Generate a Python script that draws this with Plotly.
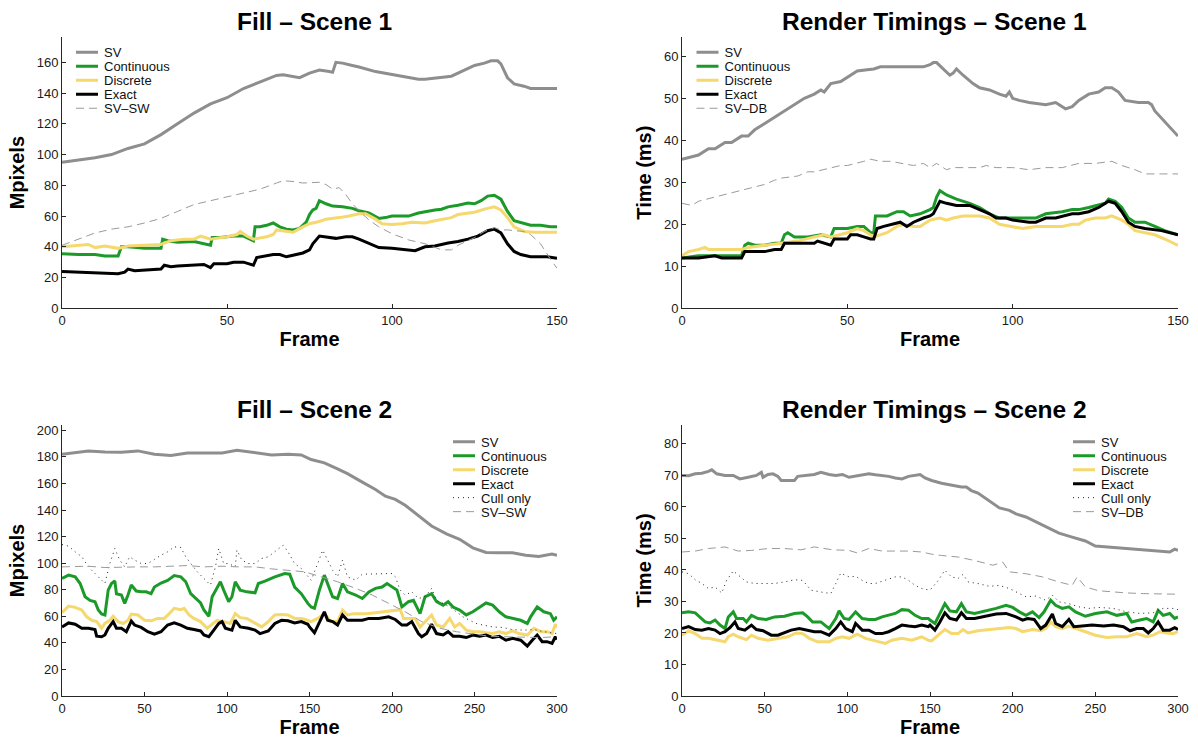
import plotly.graph_objects as go

# ---------------- data ----------------
# Fill - Scene 1
f1_sv_x = [0,5,10,15,20,25,30,35,40,45,50,55,60,65,67,70,72,75,78,81,82,83,85,88,90,95,100,105,108,110,115,118,120,125,128,130,132,133,135,137,140,142,150]
f1_sv_y = [95,96.5,98,100,104,107,113,120,127,133,137,143,147,151.5,152,150.5,150,153,155,154,153.5,160,159.5,158,157,154,152,150,149,149,150,151,153,158,159.5,161,161,159,150,146,144.5,143,143]
f1_cont_x = [0,5,10,13,17,18,20,22,25,30,30.5,32,35,40,43,45,45.5,48,52,55,58,58.5,60,62,64,66,68,70,72,74,75,76,77,78,80,82,85,88,90,93,96,98,100,105,108,110,113,115,117,120,123,125,127,129,131,133,135,137,140,142,145,148,150]
f1_cont_y = [35.5,35,35,34,34,40,40,39.5,39,39,45,44,43,43.5,42,41,46,46,47,47,44,53,53,54,55.5,53,51.5,51,52,56,61,64,65,70,68,66.5,66,65,63.5,62,58.5,59,60,60,62,63,64,64.5,66,67,68.5,68,70,73,73.5,71,63,57,55,54,54,53,53]
f1_disc_x = [0,5,8,10,13,17,20,25,30,33,37,40,42,45,48,50,53,54,56,58,62,64,65,68,70,73,75,78,80,84,87,90,92,95,97,100,103,106,110,113,118,120,125,128,131,133,135,137,140,143,150]
f1_disc_y = [40,41,41.5,39.5,40.5,39,40.5,41,41.5,44,45,45,47,45,46,46.5,48,50,47,45,46.5,48,51,50,49.5,53,55,56.5,58,59,60,61.5,61.5,58,55,54.5,55,56,55.5,57,59,61,62.5,64.5,66,64,59,53,50,49.5,49.5]
f1_exact_x = [0,5,10,13,17,19,20,22,28,30,31,33,35,40,43,45,46,50,52,55,57,58,59,61,64,66,68,70,73,75,76,78,80,83,86,88,90,93,96,100,105,107,110,113,117,120,123,126,129,131,133,135,137,139,142,147,150]
f1_exact_y = [24,23.5,23,22.5,22.5,23.5,25.5,24.5,25,25.5,28,27,27.5,28,28.5,26.5,29,29,30,30,28.5,28,33,34,35,35,33.5,34.5,36,38,42,47,46.5,45.5,46.5,46.5,45,42.5,39.5,39,38,37.5,40,40.5,42.5,43.5,45,47,50.5,51.5,49,42,37,35,33.5,33.5,32.5]
f1_svsw_x = [0,5,10,15,20,25,30,35,40,45,50,55,60,65,67,70,73,78,80,82,84,86,88,90,93,96,100,105,110,115,118,120,125,128,131,133,135,137,140,142,145,148,150]
f1_svsw_y = [41,45,49,51.5,53,55.5,58.5,63,67.5,70,72.5,75,77.5,81.5,83,82.5,81.5,82,80.5,77.5,78.5,74,68,63.5,57.5,53,48.5,44.5,42,38,38,41,46,50,52.5,51,51,50.5,50,48,42,32,26]

# Render Timings - Scene 1
t1_sv_x = [0,3,5,8,10,13,15,18,20,22,25,28,30,33,35,37,40,42,43,45,48,50,53,56,58,60,65,70,73,75,76,77,79,81,82,83,85,88,90,93,96,98,99,100,102,105,110,113,116,118,120,123,126,128,130,132,134,138,141,142,143,146,150]
t1_sv_y = [35.5,36,36.5,38,38,39.5,39.5,41,41,42.5,44,45.5,46.5,48,49,50,51,52,51.5,53.5,54,55,56.5,56.8,57,57.5,57.5,57.5,57.5,58,58.5,58.5,57,55.5,56,57,55.5,53.5,52.5,52,51,50.5,51.5,50,49.5,49,48.5,49,47.5,48,49.5,51,51.5,52.5,52.5,51.5,49.5,49,49,48.5,47,44.5,41]
t1_cont_x = [0,5,10,15,18,19,20,22,25,28,30,31,32,34,38,42,45,46,50,53,55,57,58,58.5,62,65,67,69,72,75,76,77,78,80,83,87,90,93,96,100,105,107,110,115,118,120,123,126,128,129,131,133,135,137,140,143,146,150]
t1_cont_y = [12,12.5,12.5,12.5,12.5,15,15.5,15,15,15.5,15.5,17.5,18,17,17,17.5,17,19,19,19.5,19.5,18,18,22,22,23,23,22,22.5,23.5,24,26.5,28,27,26,25,24,22.5,21.5,21.5,21.5,21.5,22.5,23,23.5,23.5,24,24.5,25,26,25.5,24,21.5,20.5,20.5,19.5,18.5,17.5]
t1_disc_x = [0,2,5,7,8,10,15,18,20,25,30,35,40,43,45,48,50,53,55,58,60,62,65,67,70,72,74,75,78,80,82,85,90,93,96,100,103,107,110,115,118,120,122,125,128,130,133,135,137,140,143,146,150]
t1_disc_y = [12.5,13.5,14,14.5,14,14,14,14,14.5,15,15.5,16,17,17.5,17,17.5,18,19,18.5,17,17.5,18,19.5,20,19.5,19.5,20.5,21,21.5,21,21.5,22,22,21.5,20,19.5,19,19.5,19.5,19.5,20,20,21,21.5,21.5,22,21,20,18.5,18,17.5,16.5,15]
t1_exact_x = [0,5,10,12,15,18,19,20,23,25,28,30,31,33,37,40,41,43,45,46,48,50,51,53,55,57,58,59,61,64,66,68,70,73,75,76,77,78,80,83,85,87,90,93,95,98,100,105,107,110,113,116,118,120,123,126,129,131,133,135,137,140,145,150]
t1_exact_y = [12,12,12.5,12,12,12,13.5,13.5,13.5,13.5,14,14,15.5,15.5,15.5,15.5,16,15.5,15,16.5,16.5,16.5,17.5,17.5,17,16.5,16.5,19,19.5,20,20.5,19.5,20.5,21.5,22,22.5,24,25.5,25,24.5,24.5,24.5,23.5,22.5,21.5,21.5,21,20.5,20.5,21.5,21.5,22,22.5,22.5,23,24,25.5,25,23,20.5,19.5,19,18.5,17.5]
t1_svdb_x = [0,3,5,10,15,20,25,28,30,35,38,40,45,48,50,53,55,57,60,63,66,70,73,75,77,80,82,85,90,92,95,100,105,110,115,120,125,130,133,137,140,145,150]
t1_svdb_y = [25,24.5,25.5,26.5,27.5,28.5,29.5,30.5,31,31.5,32.5,32.5,33.5,34,34,34.5,35,35.5,35,35,34.5,34,34.5,33.5,34.5,33,33.5,33.5,33.5,34,33.5,33.5,33,33.5,33.5,34.5,34.5,35,34,33,32,32,32]

# Fill - Scene 2
f2_sv_x = [0,8,16,26,36,46,56,66,76,86,97,106,117,127,137,145,151,159,167,173,182,190,196,202,208,216,224,233,241,249,257,265,273,281,289,297,300]
f2_sv_y = [182,183,184.5,183.7,183.5,184.5,182,181,183,183,183,185,183,181.5,182,181.5,178,175.5,171,167.4,161,155.4,150.4,148,143.6,136,128,122,118,111.5,108,107.8,107.8,106,105,106.8,106]
f2_cont_x = [0,4,8,11,14,17,20,22,24,26,28,30,32,33,36,38,40,42,45,48,51,54,56,60,64,68,72,75,78,81,84,86,89,91,94,96,98,101,103,105,108,112,117,119,123,129,135,138,141,145,149,151,153,156,159,161,164,167,170,173,178,182,186,190,194,197,200,203,206,210,213,217,220,224,227,231,234,237,241,245,249,253,257,261,265,269,273,278,282,284,288,292,296,298,300]
f2_cont_y = [88.5,91,89.7,84.7,74.7,72,71,64.7,61.7,61,79.7,84.7,86.7,77,76,69.7,76,83.5,79,78.4,78.4,77,82,85,87,90.7,89.7,86,77,73.4,70,64.7,60,74.7,81,86,79.7,71,74.7,86,79.7,78.4,77.7,84.7,86.5,89.7,92.2,91.7,82,77,69.7,67,66,79.7,91,84.7,74.7,73.4,84.7,78.4,76,73.4,78.4,81,82,84.7,82,79.7,67,71,72,62,74.7,77,71,68.4,71,67,64.7,61,63.4,67,70,68.4,63.4,59.6,58.4,57,54.6,59.6,67,63.4,62,57,59.6]
f2_disc_x = [0,4,8,12,15,18,21,24,26,29,31,34,37,40,42,46,50,54,58,62,65,68,72,74,77,80,84,88,91,94,98,102,105,108,112,117,121,125,129,133,137,141,145,149,151,155,159,163,167,170,173,177,184,190,196,202,205,207,210,214,217,220,224,227,231,235,238,241,245,249,253,257,261,265,269,273,277,282,286,290,294,297,299,300]
f2_disc_y = [62.7,67.7,66.7,64.7,59.6,57,56,51,54.6,57,60,56,54.6,57,61.7,61,57,56.6,58.4,58.4,62,66,65,66,61,58.4,56,51,54,57,56,54.6,62,59,58.4,55,52,56,61,61.4,61,58.4,58.4,57,56,58.4,62,56,56,64.7,61,62,62,62.7,63.4,64.2,65,58.4,58.4,58.4,52,56,61,53.4,52,58.4,52,54.6,49.6,48.4,48.4,47.6,47,48.4,47,49,47,45.9,51,48.4,48.4,47,54,51.6]
f2_exact_x = [0,4,8,12,16,20,21,24,26,28,31,33,36,39,42,44,48,52,56,60,64,68,72,76,80,84,86,89,92,95,97,99,103,105,108,113,117,120,125,129,133,137,141,145,149,150,153,156,159,161,164,167,170,173,178,182,186,192,198,202,206,209,212,216,218,221,224,227,231,234,237,241,245,249,253,257,261,265,269,273,278,282,285,288,291,294,297,299,300]
f2_exact_y = [52,55,54,51,51,50,45,44.6,45.9,51,56,51,51,48.4,56.4,53.4,51.6,48.4,46.6,48.4,53.4,55,53.4,51,50,49,45.9,44.6,49.6,54.6,56,51,49.6,57,52,51,49.6,47,49,54.6,57,56.6,55,56,54,52,47.6,56,63.4,57,56,53.4,61,57,57,57,58.4,58.4,59.6,57.6,53.4,53.4,56,47,44.6,47,54,47,45.9,48.4,45,45,44,45.9,45,45.9,44,45,42,43.4,42,37.6,42,45.9,40.9,40.9,39.6,44.6,42.6]
f2_cull_x = [0,4,8,12,16,20,23,26,29,32,35,38,41,44,48,52,56,60,64,68,72,75,78,82,86,90,93,95,98,101,105,106,109,113,117,121,125,129,134,137,141,145,149,151,155,158,161,164,167,170,173,178,182,188,194,200,202,205,208,212,216,220,224,227,231,235,239,243,247,251,255,261,267,273,280,286,292,298,300]
f2_cull_y = [114,112.8,108.5,104.8,97.2,92.2,88.5,84.7,99.7,111,102.3,97.2,104.8,102.3,99.7,99.7,102.8,106,108.5,112.3,111.8,104.8,99.7,93.5,88.5,83.5,97.2,111,99.7,99.7,97.2,109.8,102.3,99.7,99.7,103.5,104.8,108.5,113.5,108.5,99.7,96,89.7,87.2,99.7,109.8,102.3,94.7,89.7,102.3,89.7,87.2,91.7,91.7,92.2,92.2,89.7,79.7,76,78.4,73.4,74.7,81,72,69.7,67,63.4,59.6,57,54.6,53.4,52,51.6,50,49.6,50,48.4,47,47]
f2_svsw_x = [0,16,26,36,46,56,66,76,86,97,107,117,127,137,147,157,167,178,188,198,208,218,229,239,249,259,269,280,290,300]
f2_svsw_y = [97.2,97.7,96.7,97.2,97.2,97.2,97.7,98.2,97.2,97.7,97.2,97.2,95.7,94.7,93.5,89.7,86,81,76,69.7,63.4,56,51,48.4,46.6,45,44.6,44,44,44.6]

# Render Timings - Scene 2
t2_sv_x = [0,4,8,12,16,18,21,26,31,35,40,45,48,49,52,55,58,60,64,68,70,76,80,84,89,93,97,101,105,109,113,117,121,125,129,133,137,141,144,147,151,157,163,169,172,175,179,186,192,198,202,208,214,220,228,236,244,250,257,265,273,281,289,295,298,300]
t2_sv_y = [70,69.9,70.5,70.7,71.3,71.8,70.5,70,70,68.9,69.4,70,71,69.4,70.3,70.5,69.7,68.4,68.4,68.4,69.7,70,70.3,71,70.3,70,70.3,69.4,69.7,70,70.5,70.2,70,69.7,69.2,68.9,69.7,70,70.3,69.2,68.4,67.5,66.8,66.3,66.3,65.2,64.4,62,59.7,58.9,57.8,56.8,55.2,53.8,51.7,50.4,49.2,47.6,47.3,47,46.8,46.4,46,45.7,46.6,46.2]
t2_cont_x = [0,4,8,11,14,17,20,23,26,28,31,33,37,39,42,46,51,56,62,68,73,76,79,84,89,93,95,98,101,105,109,113,117,121,125,129,133,137,141,145,149,150,153,156,159,162,166,169,172,177,184,190,196,200,204,208,212,216,219,223,226,230,234,238,244,250,257,263,269,272,277,281,285,288,291,295,298,300]
t2_cont_y = [26.4,26.7,26.4,25.1,23.5,23.2,24.1,22.5,21.4,25.1,26.7,24.6,24.6,23.5,25.6,24.6,24.3,25.1,25.3,26.2,26.4,25.1,23.5,23.5,21.4,24.6,27,24.6,24.3,26.7,24.6,24.3,24.3,25.1,25.6,26.2,27.4,27.2,25.6,24.6,24.6,24.1,23,26.2,29.3,27,26.7,29.3,26.7,26.2,27,27.8,28.8,28.1,26.7,25.6,26.7,24.9,26.7,30.4,28.8,27.8,28.3,26.7,25.3,26.2,26.7,25.6,26.2,23.5,24.1,24.6,23.5,27.2,25.6,26.2,24.6,25.1]
t2_disc_x = [0,4,8,12,16,21,26,28,31,34,39,42,46,52,58,64,69,73,77,82,89,93,97,101,106,111,117,123,127,133,139,145,149,151,156,159,163,167,170,173,179,186,192,198,202,206,212,217,220,223,226,230,234,238,244,250,257,263,269,275,281,285,289,293,297,300]
t2_disc_y = [19.3,20.7,19.8,18.3,18.3,17.7,17.2,18.8,19.6,18.8,17.9,19.3,18.3,17.7,18.3,18.8,20,19.8,18.3,17.2,17.2,18.3,18.8,18.3,19.6,18.3,17.5,16.7,17.7,18.3,17.7,18.8,17.7,17.5,19.8,21.1,19.8,19.8,21.1,20,20.7,21.1,21.4,21.7,21.4,20.4,21.1,20.7,21.4,23.5,22,21.4,22.2,21.4,20.4,19.3,18.6,18.8,18.8,19.8,18.8,19.3,20.4,20,19.8,20.4]
t2_exact_x = [0,4,8,12,16,20,23,26,29,32,34,38,42,45,49,54,58,62,66,71,75,80,84,89,93,96,99,103,105,109,113,117,121,125,129,133,137,141,145,149,150,153,156,159,162,166,169,172,177,184,190,196,202,206,209,213,217,220,224,226,230,234,237,242,248,255,261,267,271,275,279,282,285,288,291,295,298,300]
t2_exact_y = [21.4,22,21.1,20.9,21.4,20.9,19.8,20.4,21.7,23.5,21.4,20.9,22.5,21.1,20.7,19.3,19.3,20,20.9,21.4,20.9,20.4,20.4,19.3,21.4,23.5,21.4,20.4,23,20.9,20.9,19.8,19.8,20.4,21.4,22.5,22.2,22,22.5,22,22.5,20.9,23.5,26.4,24.6,24.1,26.4,24.6,24.6,25.3,26,26.2,25.1,24.1,24.6,24.3,21.4,22.5,26,23,22,24.3,22,22.2,22.5,22.2,22.5,22,20.7,21.4,21.4,20,21.4,23.5,20.9,20.9,21.7,21.1]
t2_cull_x = [0,4,8,12,16,20,24,27,31,35,39,44,50,56,62,68,73,78,84,90,93,96,101,105,109,113,117,123,129,133,137,141,145,150,155,159,163,167,170,173,179,186,192,198,204,208,214,220,224,228,234,240,246,252,261,269,277,285,291,297,300]
t2_cull_y = [39.4,38.8,36.9,35.7,34.1,34.6,32.7,36.7,39.7,37.8,36.2,35.7,35.7,35.7,36.2,36.9,36.7,33.6,33,32.5,35.7,39,37.8,38,36.7,35.7,35.7,36.7,37.8,37.8,36.7,35.1,34.1,33.6,36.7,39.9,37.8,37.3,38.6,36.2,35.7,34.8,35.1,34.1,32.5,31.5,31.7,30.4,32,29.9,29.3,28.3,27.8,28.1,27.8,26.7,26.2,26.4,27.8,27.8,27.4]
t2_svdb_x = [0,8,16,26,34,42,52,62,72,80,91,101,106,113,121,129,137,145,151,157,167,177,188,194,198,208,218,228,236,239,244,252,261,269,279,289,300]
t2_svdb_y = [45.7,46,46.8,47.3,46,46.2,46.8,46.8,46.4,47.3,46.4,46.2,45.4,46.8,46,46,46,45.7,45,44.6,44.1,43,41.5,42.5,39.4,38.8,37.8,36.2,35.1,37.8,34.6,33.4,33,32.7,32.5,32.3,32.3]

panel_titles = ["Fill – Scene 1", "Render Timings – Scene 1", "Fill – Scene 2", "Render Timings – Scene 2"]
y_titles = ["Mpixels", "Time (ms)", "Mpixels", "Time (ms)"]
x_title = "Frame"

# ---------------- styles ----------------
FONT = "Liberation Sans"
STYLE = {
    "SV":         dict(color="#8e8e8e", width=3),
    "Continuous": dict(color="#1b9a2a", width=3),
    "Discrete":   dict(color="#f5d86e", width=3),
    "Exact":      dict(color="#000000", width=3),
    "Cull only":  dict(color="#222222", width=1, dash="1px,4px"),
    "SV–SW":      dict(color="#9a9a9a", width=1, dash="8px,5px"),
    "SV–DB":      dict(color="#9a9a9a", width=1, dash="8px,5px"),
}

panels = [
    ("x", "y", "legend", [("SV", f1_sv_x, f1_sv_y), ("Continuous", f1_cont_x, f1_cont_y),
                          ("Discrete", f1_disc_x, f1_disc_y), ("Exact", f1_exact_x, f1_exact_y),
                          ("SV–SW", f1_svsw_x, f1_svsw_y)]),
    ("x2", "y2", "legend2", [("SV", t1_sv_x, t1_sv_y), ("Continuous", t1_cont_x, t1_cont_y),
                             ("Discrete", t1_disc_x, t1_disc_y), ("Exact", t1_exact_x, t1_exact_y),
                             ("SV–DB", t1_svdb_x, t1_svdb_y)]),
    ("x3", "y3", "legend3", [("SV", f2_sv_x, f2_sv_y), ("Continuous", f2_cont_x, f2_cont_y),
                             ("Discrete", f2_disc_x, f2_disc_y), ("Exact", f2_exact_x, f2_exact_y),
                             ("Cull only", f2_cull_x, f2_cull_y), ("SV–SW", f2_svsw_x, f2_svsw_y)]),
    ("x4", "y4", "legend4", [("SV", t2_sv_x, t2_sv_y), ("Continuous", t2_cont_x, t2_cont_y),
                             ("Discrete", t2_disc_x, t2_disc_y), ("Exact", t2_exact_x, t2_exact_y),
                             ("Cull only", t2_cull_x, t2_cull_y), ("SV–DB", t2_svdb_x, t2_svdb_y)]),
]

fig = go.Figure()
for xa, ya, lg, series in panels:
    for name, xs, ys in series:
        fig.add_trace(go.Scatter(x=xs, y=ys, mode="lines", name=name, xaxis=xa, yaxis=ya,
                                 legend=lg, line=STYLE[name], hoverinfo="skip"))

W, H = 1198, 739
def px_x(p): return p / W
def px_y(p): return 1 - p / H

XD = [[px_x(62), px_x(557)], [px_x(682), px_x(1178)]]
YD = [[px_y(308.3), px_y(37)], [px_y(696), px_y(425)]]

AX = dict(showline=True, linecolor="#262626", linewidth=1, ticks="inside", ticklen=4,
          tickcolor="#262626", showgrid=False, zeroline=False, automargin=False,
          tickfont=dict(family=FONT, size=13, color="#1a1a1a"))
TF = dict(family=FONT, size=20, color="black", weight="bold")

cfg = [  # (xdomain, ydomain, xmax, ymax, ydtick)
    (XD[0], YD[0], 150, 176.5, 20),
    (XD[1], YD[0], 150, 64.6, 10),
    (XD[0], YD[1], 300, 204, 20),
    (XD[1], YD[1], 300, 86, 10),
]
lay = {}
for i, (xd, yd, xm, ym, ydt) in enumerate(cfg):
    s = "" if i == 0 else str(i + 1)
    lay["xaxis" + s] = dict(AX, domain=xd, range=[0, xm], dtick=50, tick0=0, anchor="y" + s,
                            title=dict(text=x_title, font=TF, standoff=5))
    lay["yaxis" + s] = dict(AX, domain=yd, range=[0, ym], dtick=ydt, tick0=0, anchor="x" + s,
                            title=dict(text=y_titles[i], font=TF, standoff=6))

LG = dict(bgcolor="rgba(0,0,0,0)", borderwidth=0, xanchor="left", yanchor="top",
          font=dict(family=FONT, size=13, color="#111111"), tracegroupgap=0)
lay["legend"] = dict(LG, x=px_x(64), y=px_y(37.3))
lay["legend2"] = dict(LG, x=px_x(684.5), y=px_y(37.3))
lay["legend3"] = dict(LG, x=px_x(441), y=px_y(426.7))
lay["legend4"] = dict(LG, x=px_x(1061), y=px_y(426.7))

annotations = []
for i, t in enumerate(panel_titles):
    s = "" if i == 0 else str(i + 1)
    ycen = 21 if i < 2 else 409
    annotations.append(dict(text=t, xref="x" + s + " domain", x=0.5, xshift=5, yref="paper",
                            y=px_y(ycen), xanchor="center", yanchor="middle", showarrow=False,
                            font=dict(family=FONT, size=24.5, color="black", weight="bold")))

fig.update_layout(width=W, height=H, margin=dict(l=0, r=0, t=0, b=0, pad=0, autoexpand=False),
                  paper_bgcolor="white", plot_bgcolor="white", showlegend=True,
                  annotations=annotations, font=dict(family=FONT), **lay)

# page without body margin; tighten the legend rows to the reference's compact spacing
post = """
document.documentElement.style.margin = '0';
document.body.style.margin = '0';
document.body.style.padding = '0';
document.body.style.overflow = 'hidden';
var gd = document.getElementById('{plot_id}');
['legend','legend2','legend3','legend4'].forEach(function(id){
  var lg = gd.querySelector('g.infolayer > g.' + id);
  if(!lg) return;
  var y0 = null;
  lg.querySelectorAll('g.traces').forEach(function(t, i){
    var tr = t.getAttribute('transform') || '';
    var m = tr.match(/translate\\(\\s*([-0-9.e]+)[ ,]+([-0-9.e]+)\\s*\\)/);
    if(!m) return;
    var x = parseFloat(m[1]), y = parseFloat(m[2]);
    if(y0 === null) y0 = y;
    t.setAttribute('transform', 'translate(' + x + ',' + (y0 + 14*i) + ')');
  });
  lg.querySelectorAll('g.legendlines path').forEach(function(p){
    p.setAttribute('d', 'M12,0h22');
  });
});
"""
fig.write_html("out.html", post_script=post, config={"displayModeBar": False, "staticPlot": True})
